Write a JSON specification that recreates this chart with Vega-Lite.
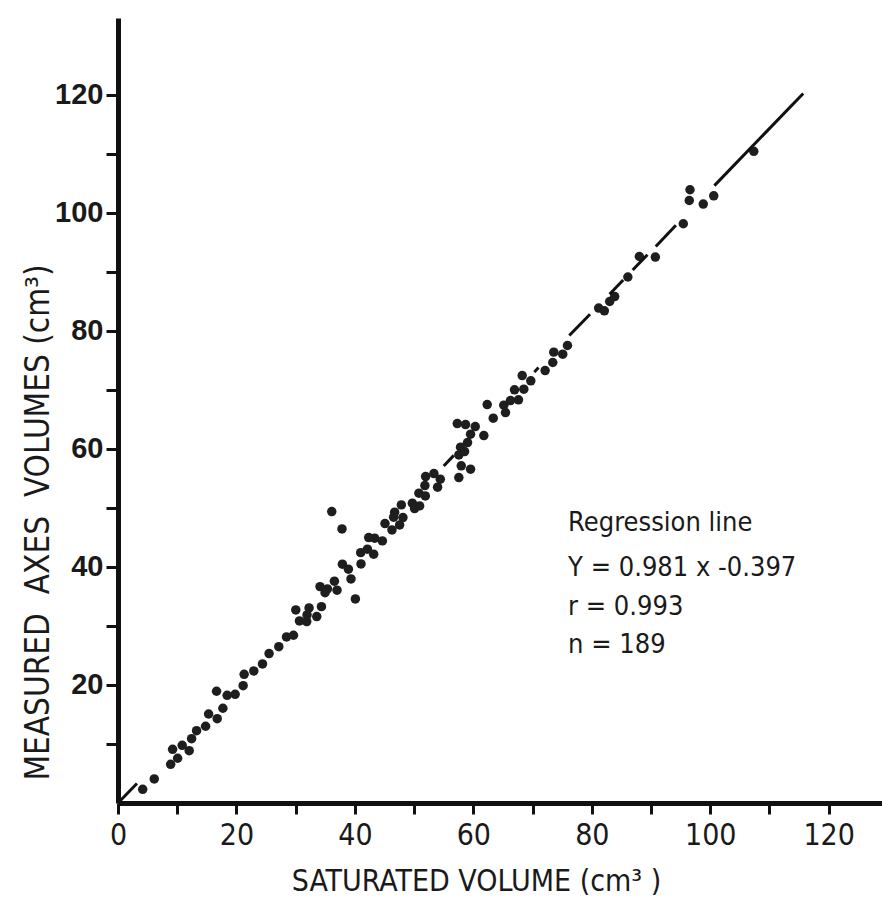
{
  "$schema": "https://vega.github.io/schema/vega-lite/v6.json",
  "autosize": {"type": "none"},
  "width": 764,
  "height": 785,
  "padding": {"left": 118, "top": 18, "right": 0, "bottom": 104},
  "background": "white",
  "config": {"view": {"stroke": null}},
  "datasets": {
    "pts": [
      {"sat": 4.17, "meas": 2.32}, {"sat": 6.12, "meas": 4.07}, {"sat": 8.89, "meas": 6.56}, {"sat": 9.22, "meas": 9.10},
      {"sat": 10.07, "meas": 7.58}, {"sat": 10.84, "meas": 9.78}, {"sat": 12.02, "meas": 8.86}, {"sat": 12.43, "meas": 10.90},
      {"sat": 13.27, "meas": 12.25}, {"sat": 14.79, "meas": 13.0}, {"sat": 15.30, "meas": 15.08}, {"sat": 16.75, "meas": 14.29},
      {"sat": 17.71, "meas": 16.05}, {"sat": 16.64, "meas": 18.93}, {"sat": 18.43, "meas": 18.25}, {"sat": 19.78, "meas": 18.42},
      {"sat": 21.13, "meas": 19.88}, {"sat": 21.30, "meas": 21.81}, {"sat": 22.93, "meas": 22.37}, {"sat": 24.40, "meas": 23.56},
      {"sat": 25.51, "meas": 25.31}, {"sat": 27.15, "meas": 26.49}, {"sat": 28.45, "meas": 28.14}, {"sat": 29.63, "meas": 28.42},
      {"sat": 30.02, "meas": 32.71}, {"sat": 30.64, "meas": 30.85}, {"sat": 31.87, "meas": 30.73}, {"sat": 31.92, "meas": 31.86},
      {"sat": 32.26, "meas": 33.05}, {"sat": 33.56, "meas": 31.58}, {"sat": 34.35, "meas": 33.27}, {"sat": 34.11, "meas": 36.66},
      {"sat": 34.96, "meas": 35.64}, {"sat": 35.36, "meas": 36.27}, {"sat": 36.54, "meas": 37.58}, {"sat": 36.98, "meas": 36.05},
      {"sat": 37.89, "meas": 40.46}, {"sat": 38.90, "meas": 39.61}, {"sat": 39.34, "meas": 37.97}, {"sat": 40.08, "meas": 34.58},
      {"sat": 41.03, "meas": 40.51}, {"sat": 40.98, "meas": 42.42}, {"sat": 42.11, "meas": 43.0}, {"sat": 43.17, "meas": 42.15},
      {"sat": 36.09, "meas": 49.37}, {"sat": 37.82, "meas": 46.44}, {"sat": 42.33, "meas": 44.97}, {"sat": 43.34, "meas": 44.86},
      {"sat": 44.64, "meas": 44.41}, {"sat": 45.08, "meas": 47.34}, {"sat": 46.26, "meas": 46.27}, {"sat": 47.55, "meas": 47.12},
      {"sat": 46.54, "meas": 48.42}, {"sat": 46.71, "meas": 49.27}, {"sat": 47.84, "meas": 50.51}, {"sat": 48.11, "meas": 48.36},
      {"sat": 49.70, "meas": 50.80}, {"sat": 50.08, "meas": 49.88}, {"sat": 50.93, "meas": 50.34}, {"sat": 50.81, "meas": 52.49},
      {"sat": 51.89, "meas": 52.03}, {"sat": 51.82, "meas": 53.78}, {"sat": 51.94, "meas": 55.31}, {"sat": 53.34, "meas": 55.81},
      {"sat": 53.96, "meas": 53.51}, {"sat": 54.42, "meas": 54.86}, {"sat": 57.55, "meas": 55.14}, {"sat": 57.96, "meas": 57.12},
      {"sat": 57.55, "meas": 58.98}, {"sat": 57.84, "meas": 60.29}, {"sat": 58.52, "meas": 59.54}, {"sat": 59.02, "meas": 61.07},
      {"sat": 59.53, "meas": 56.56}, {"sat": 59.53, "meas": 62.49}, {"sat": 60.32, "meas": 63.78}, {"sat": 57.29, "meas": 64.29},
      {"sat": 58.68, "meas": 64.12}, {"sat": 61.77, "meas": 62.25}, {"sat": 63.36, "meas": 65.20}, {"sat": 62.34, "meas": 67.51},
      {"sat": 65.14, "meas": 67.41}, {"sat": 65.43, "meas": 66.15}, {"sat": 66.27, "meas": 68.19}, {"sat": 67.62, "meas": 68.31},
      {"sat": 66.95, "meas": 70.0}, {"sat": 68.52, "meas": 70.12}, {"sat": 68.25, "meas": 72.42}, {"sat": 69.70, "meas": 71.53},
      {"sat": 72.12, "meas": 73.27}, {"sat": 73.41, "meas": 74.63}, {"sat": 73.58, "meas": 76.39}, {"sat": 75.09, "meas": 76.05},
      {"sat": 75.89, "meas": 77.51}, {"sat": 81.16, "meas": 83.85}, {"sat": 82.12, "meas": 83.39}, {"sat": 83.02, "meas": 84.97},
      {"sat": 83.86, "meas": 85.81}, {"sat": 86.09, "meas": 89.12}, {"sat": 88.03, "meas": 92.59}, {"sat": 90.73, "meas": 92.49},
      {"sat": 95.45, "meas": 98.14}, {"sat": 96.58, "meas": 103.90}, {"sat": 96.46, "meas": 102.08}, {"sat": 98.82, "meas": 101.47},
      {"sat": 100.59, "meas": 102.88}, {"sat": 107.35, "meas": 110.42}
    ],
    "reg": [
      {"seg": 1, "sat": 0, "meas": 0}, {"seg": 1, "sat": 3.2, "meas": 3.3},
      {"seg": 2, "sat": 55.0, "meas": 57.1}, {"seg": 2, "sat": 56.7, "meas": 58.9},
      {"seg": 3, "sat": 70.3, "meas": 73.0}, {"seg": 3, "sat": 71.0, "meas": 73.8},
      {"seg": 4, "sat": 76.2, "meas": 79.2}, {"seg": 4, "sat": 79.7, "meas": 82.8},
      {"seg": 5, "sat": 83.0, "meas": 86.2}, {"seg": 5, "sat": 85.3, "meas": 88.6},
      {"seg": 6, "sat": 86.9, "meas": 90.3}, {"seg": 6, "sat": 89.4, "meas": 92.9},
      {"seg": 7, "sat": 90.8, "meas": 94.3}, {"seg": 7, "sat": 94.2, "meas": 97.9},
      {"seg": 8, "sat": 100.7, "meas": 104.6}, {"seg": 8, "sat": 115.7, "meas": 120.2}
    ],
    "ann": [
      {"sat": 76.0, "meas": 47.5, "txt": "Regression line"},
      {"sat": 76.0, "meas": 39.8, "txt": "Y = 0.981 x -0.397"},
      {"sat": 76.0, "meas": 33.2, "txt": "r  = 0.993"},
      {"sat": 76.0, "meas": 26.8, "txt": "n  = 189"}
    ]
  },
  "encoding": {
    "x": {
      "field": "sat", "type": "quantitative",
      "scale": {"domain": [0, 129], "nice": false, "zero": false},
      "axis": {
        "title": "SATURATED VOLUME (cm³ )",
        "values": [0, 10, 20, 30, 40, 50, 60, 70, 80, 90, 100, 110, 120],
        "labelExpr": "datum.value % 20 == 0 ? datum.label : ''",
        "grid": false,
        "domainColor": "#111", "domainWidth": 5,
        "tickColor": "#111", "tickWidth": 3, "tickSize": 11,
        "labelFont": "DejaVu Sans Condensed, Liberation Sans Narrow, Roboto Condensed, Roboto, sans-serif", "labelFontSize": 30, "labelColor": "#1a1a1a", "labelPadding": 6,
        "labelFlush": false, "labelOverlap": false,
        "titleFont": "DejaVu Sans Condensed, Liberation Sans Narrow, Roboto Condensed, Roboto, sans-serif", "titleFontSize": 30, "titleFontWeight": "normal", "titleColor": "#1a1a1a",
        "titleX": 358, "titlePadding": 16
      }
    },
    "y": {
      "field": "meas", "type": "quantitative",
      "scale": {"domain": [0, 133], "nice": false, "zero": false},
      "axis": {
        "title": "MEASURED\u00a0 AXES\u00a0 VOLUMES (cm³)",
        "values": [10, 20, 30, 40, 50, 60, 70, 80, 90, 100, 110, 120],
        "labelExpr": "datum.value % 20 == 0 ? datum.label : ''",
        "grid": false,
        "domainColor": "#111", "domainWidth": 5,
        "tickColor": "#111", "tickWidth": 3, "tickSize": 12,
        "labelFont": "Liberation Sans, Arial, sans-serif", "labelFontWeight": "bold", "labelFontSize": 29, "labelColor": "#1a1a1a", "labelPadding": 3,
        "labelFlush": false, "labelOverlap": false,
        "titleFont": "DejaVu Sans Condensed, Liberation Sans Narrow, Roboto Condensed, Roboto, sans-serif", "titleFontSize": 33, "titleFontWeight": "normal", "titleColor": "#1a1a1a",
        "titleY": 504, "titleX": -80, "titleBaseline": "middle", "titleAngle": -90
      }
    }
  },
  "layer": [
    {
      "data": {"name": "pts"},
      "mark": {"type": "circle", "size": 90, "color": "#1e1e1e", "opacity": 1}
    },
    {
      "data": {"name": "reg"},
      "mark": {"type": "line", "color": "#111", "strokeWidth": 3},
      "encoding": {
        "detail": {"field": "seg", "type": "nominal"}
      }
    },
    {
      "data": {"name": "ann"},
      "mark": {"type": "text", "align": "left", "baseline": "middle", "font": "DejaVu Sans Condensed, Liberation Sans Narrow, Roboto Condensed, Roboto, sans-serif", "fontSize": 27, "color": "#1a1a1a"},
      "encoding": {
        "text": {"field": "txt", "type": "nominal"}
      }
    }
  ]
}
